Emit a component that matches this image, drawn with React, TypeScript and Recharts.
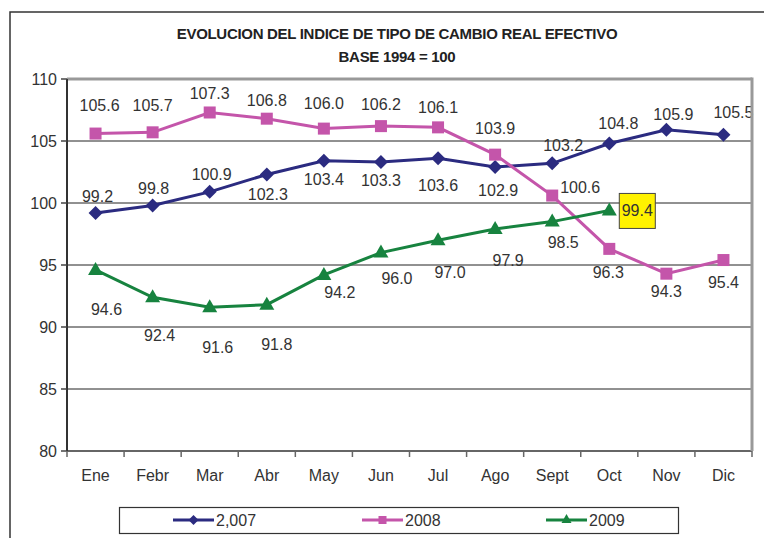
import React from 'react';
import { LineChart, Line, XAxis, YAxis, CartesianGrid, LabelList, ReferenceLine } from 'recharts';

const months = ['Ene', 'Febr', 'Mar', 'Abr', 'May', 'Jun', 'Jul', 'Ago', 'Sept', 'Oct', 'Nov', 'Dic'];
const s2007 = [99.2, 99.8, 100.9, 102.3, 103.4, 103.3, 103.6, 102.9, 103.2, 104.8, 105.9, 105.5];
const s2008 = [105.6, 105.7, 107.3, 106.8, 106.0, 106.2, 106.1, 103.9, 100.6, 96.3, 94.3, 95.4];
const s2009: (number | null)[] = [94.6, 92.4, 91.6, 91.8, 94.2, 96.0, 97.0, 97.9, 98.5, 99.4, null, null];
const yTicks = [80, 85, 90, 95, 100, 105, 110];
const seriesNames = ['2,007', '2008', '2009'];

// label offsets (dx, dy) relative to each point
const off2007 = [[2, -16], [1, -17], [2, -17], [1, 20], [0, 19], [0, 18], [0, 27], [3, 23], [11, -18], [9, -20], [7, -15], [10, -22]];
const off2008 = [[4, -28], [0, -27], [0, -19], [0, -18], [0, -25], [0, -22], [0, -20], [0, -26], [28, -8], [-1, 24], [0, 18], [0, 22]];
const off2009 = [[11, 40], [7, 38], [8, 40], [10, 40], [16, 18], [16, 26], [12, 32], [13, 31], [11, 21], [28, 0]];

const data = months.map((m, i) => ({ m, a: s2007[i], b: s2008[i], c: s2009[i] }));

const C07 = '#2B2B80';
const C08 = '#C455AA';
const C09 = '#17833F';
const FONT = '"Liberation Sans Narrow", "Liberation Sans", Arial, sans-serif';

const W = 764, H = 538;
const M = { top: 79, right: 12, left: 0, bottom: 57 };
const YW = 67;
const PLOT_W = W - M.left - M.right - YW;
const BAND = PLOT_W / 12;

const Diamond = (p: any) => {
  const { cx, cy } = p;
  if (cx == null || cy == null || p.value == null) return null;
  const r = 7;
  return <path key={`d${p.index}`} d={`M${cx},${cy - r}L${cx + r},${cy}L${cx},${cy + r}L${cx - r},${cy}Z`} fill={C07} />;
};
const Square = (p: any) => {
  const { cx, cy } = p;
  if (cx == null || cy == null || p.value == null) return null;
  const r = 6;
  return <rect key={`s${p.index}`} x={cx - r} y={cy - r} width={2 * r} height={2 * r} fill={C08} />;
};
const Tri = (p: any) => {
  const { cx, cy } = p;
  if (cx == null || cy == null || p.value == null) return null;
  return <path key={`t${p.index}`} d={`M${cx},${cy - 8}L${cx + 7.5},${cy + 5}L${cx - 7.5},${cy + 5}Z`} fill={C09} />;
};

const makeLabel = (offs: number[][], boxIndex = -1) => (p: any) => {
  const { x, y, value, index } = p;
  if (value == null || x == null) return null;
  const o = offs[index] || [0, 0];
  const tx = x + o[0];
  const ty = y + o[1];
  const txt = Number(value).toFixed(1);
  return (
    <g key={`l${index}`}>
      {index === boxIndex && (
        <rect x={tx - 18} y={ty - 17} width={36} height={35} fill="#FFF200" stroke="#444" strokeWidth={1} />
      )}
      <text x={tx} y={ty} textAnchor="middle" dominantBaseline="central" fontSize={16} fill="#333" fontFamily={FONT}>
        {txt}
      </text>
    </g>
  );
};

const XTick = (p: any) => {
  const { x, y, payload, index } = p;
  const ay = y - 8;
  return (
    <g>
      <line x1={x - BAND / 2} x2={x - BAND / 2} y1={ay} y2={ay + 6} stroke="#666" strokeWidth={1.5} />
      {index === 11 && <line x1={x + BAND / 2} x2={x + BAND / 2} y1={ay} y2={ay + 6} stroke="#666" strokeWidth={1.5} />}
      <text x={x} y={ay + 24} textAnchor="middle" dominantBaseline="central" fontSize={16} fill="#333" fontFamily={FONT}>
        {payload.value}
      </text>
    </g>
  );
};

const legendItems = [
  { name: seriesNames[0], color: C07, x: 173, shape: 'd' },
  { name: seriesNames[1], color: C08, x: 362, shape: 's' },
  { name: seriesNames[2], color: C09, x: 546, shape: 't' },
];

export default function App() {
  return (
    <div style={{ position: 'absolute', left: 0, top: 0, width: W, height: H, background: '#fff', overflow: 'hidden' }}>
      <svg width={W} height={H} style={{ position: 'absolute', left: 0, top: 0 }}>
        <rect x={10} y={12} width={800} height={600} fill="none" stroke="#333" strokeWidth={1.5} />
        <text x={397} y={33} textAnchor="middle" dominantBaseline="central" fontSize={15} fontWeight="bold" fill="#222" fontFamily={FONT} letterSpacing={-0.3}>
          EVOLUCION DEL INDICE DE TIPO DE CAMBIO REAL EFECTIVO
        </text>
        <text x={397} y={56} textAnchor="middle" dominantBaseline="central" fontSize={15} fontWeight="bold" fill="#222" fontFamily={FONT} letterSpacing={-0.3}>
          BASE 1994 = 100
        </text>
      </svg>
      <div style={{ position: 'absolute', left: 0, top: 0 }}>
        <LineChart width={W} height={H} data={data} margin={M}>
          <CartesianGrid horizontal vertical={false} stroke="#222" strokeWidth={1} />
          <XAxis
            dataKey="m"
            scale="band"
            height={30}
            tickSize={6}
            tickMargin={2}
            tickLine={false}
            tick={<XTick />}
            axisLine={{ stroke: '#666', strokeWidth: 2 }}
            interval={0}
          />
          <YAxis
            width={YW}
            domain={[80, 110]}
            ticks={yTicks}
            interval={0}
            tickSize={6}
            tickMargin={4}
            tick={{ fontSize: 16, fill: '#333', fontFamily: FONT }}
            tickLine={{ stroke: '#444', strokeWidth: 1.5 }}
            axisLine={{ stroke: '#333', strokeWidth: 2 }}
          />
          <ReferenceLine y={110} stroke="#999" strokeWidth={3} />
          <Line dataKey="a" name={seriesNames[0]} stroke={C07} strokeWidth={3} dot={Diamond} isAnimationActive={false}>
            <LabelList dataKey="a" content={makeLabel(off2007)} />
          </Line>
          <Line dataKey="b" name={seriesNames[1]} stroke={C08} strokeWidth={3} dot={Square} isAnimationActive={false}>
            <LabelList dataKey="b" content={makeLabel(off2008)} />
          </Line>
          <Line dataKey="c" name={seriesNames[2]} stroke={C09} strokeWidth={3} dot={Tri} isAnimationActive={false}>
            <LabelList dataKey="c" content={makeLabel(off2009, 9)} />
          </Line>
        </LineChart>
      </div>
      <svg width={W} height={H} style={{ position: 'absolute', left: 0, top: 0, pointerEvents: 'none' }}>
        <line x1={M.left + YW + PLOT_W} x2={M.left + YW + PLOT_W} y1={M.top - 1.5} y2={H - M.bottom - 30} stroke="#999" strokeWidth={3} />
        <rect x={119.5} y={507.5} width={559} height={26} fill="none" stroke="#333" strokeWidth={1.2} />
        {legendItems.map((it) => (
          <g key={it.name}>
            <line x1={it.x} x2={it.x + 41} y1={520} y2={520} stroke={it.color} strokeWidth={3} />
            {it.shape === 'd' && <path d={`M${it.x + 20.5},515L${it.x + 25.5},520L${it.x + 20.5},525L${it.x + 15.5},520Z`} fill={it.color} />}
            {it.shape === 's' && <rect x={it.x + 16.5} y={516} width={8} height={8} fill={it.color} />}
            {it.shape === 't' && <path d={`M${it.x + 20.5},514L${it.x + 25.5},523L${it.x + 15.5},523Z`} fill={it.color} />}
            <text x={it.x + 43} y={520} dominantBaseline="central" fontSize={16} fill="#333" fontFamily={FONT}>
              {it.name}
            </text>
          </g>
        ))}
      </svg>
    </div>
  );
}
